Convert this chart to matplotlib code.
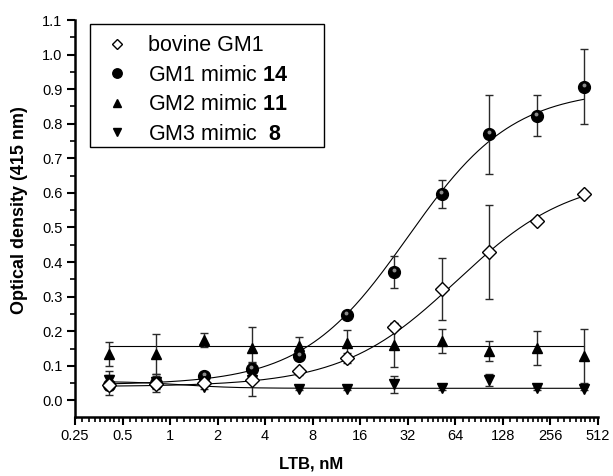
import numpy as np
import matplotlib
matplotlib.use("Agg")
import matplotlib.pyplot as plt
from matplotlib.ticker import FixedLocator, FixedFormatter
from matplotlib.transforms import offset_copy
from matplotlib.patches import Rectangle

plt.rcParams['font.family'] = ['Liberation Sans', 'DejaVu Sans']
plt.rcParams['mathtext.fontset'] = 'custom'
plt.rcParams['mathtext.rm'] = 'Liberation Sans'
plt.rcParams['mathtext.bf'] = 'Liberation Sans:bold'

# ---- data ----
conc = [0.41, 0.82, 1.64, 3.28, 6.56, 13.1, 26.25, 52.5, 105, 210, 420]

bovine_y = [0.045, 0.047, 0.050, 0.060, 0.084, 0.123, 0.213, 0.323, 0.430, 0.520, 0.598]
bovine_e = [0.010, 0.010, 0.008, 0.047, 0.010, 0.015, 0.010, 0.090, 0.136, 0.008, 0.008]

gm1_y = [0.044, 0.050, 0.071, 0.092, 0.127, 0.247, 0.371, 0.596, 0.769, 0.823, 0.907]
gm1_e = [0.029, 0.025, 0.008, 0.020, 0.008, 0.008, 0.047, 0.041, 0.114, 0.059, 0.109]

gm2_y = [0.134, 0.134, 0.174, 0.151, 0.157, 0.165, 0.160, 0.172, 0.143, 0.152, 0.129]
gm2_e = [0.034, 0.057, 0.020, 0.061, 0.027, 0.040, 0.063, 0.035, 0.030, 0.049, 0.078]

gm3_y = [0.058, 0.052, 0.038, 0.060, 0.033, 0.033, 0.047, 0.037, 0.059, 0.035, 0.034]
gm3_e = [0.028, 0.020, 0.005, 0.005, 0.004, 0.004, 0.025, 0.008, 0.016, 0.005, 0.005]

# fitted (Hill) curve parameters: bottom, top, EC50, slope
bovine_fit = (0.040, 0.650, 65.0, 1.2)
gm1_fit = (0.045, 0.900, 32.0, 1.3)
gm2_fit = (0.157, 0.157, 30.0, 1.0)
gm3_fit = (0.055, 0.035, 1.2, 2.5)

labels = ['bovine GM1', r'GM1 mimic $\mathbf{14}$', r'GM2 mimic $\mathbf{11}$', r'GM3 mimic  $\mathbf{8}$']

xticks = [0.25, 0.5, 1, 2, 4, 8, 16, 32, 64, 128, 256, 512]
xticklabels = ['0.25', '0.5', '1', '2', '4', '8', '16', '32', '64', '128', '256', '512']
yticks = [0.0, 0.1, 0.2, 0.3, 0.4, 0.5, 0.6, 0.7, 0.8, 0.9, 1.0, 1.1]


def hill(x, p):
    b, t, c, n = p
    return b + (t - b) / (1.0 + (c / x) ** n)


fig = plt.figure(figsize=(6.13, 4.76), dpi=100)
ax = fig.add_axes([75 / 613, 1 - 417 / 476, 523 / 613, 397 / 476])
ax.set_xscale('log', base=2)

xs = np.geomspace(conc[0], conc[-1], 300)
for p in (gm2_fit, gm3_fit, bovine_fit, gm1_fit):
    ax.plot(xs, hill(xs, p), color='black', lw=0.8, zorder=2)

eb_kw = dict(fmt='none', ecolor='#2a2a2a', elinewidth=1.0, capsize=3.2, capthick=1.0, zorder=3)
for ys, es in ((gm3_y, gm3_e), (gm2_y, gm2_e), (gm1_y, gm1_e), (bovine_y, bovine_e)):
    ax.errorbar(conc, ys, yerr=es, **eb_kw)

h3, = ax.plot(conc, gm3_y, linestyle='none', marker='v', ms=7.5, color='black', zorder=4)
h2, = ax.plot(conc, gm2_y, linestyle='none', marker='^', ms=7.5, color='black', zorder=4)
h1, = ax.plot(conc, gm1_y, linestyle='none', marker='o', ms=8.5, color='black', zorder=5)
hl = offset_copy(ax.transData, fig=fig, x=-0.5, y=2.0, units='dots')
ax.plot(conc, gm1_y, linestyle='none', marker='o', ms=2.8, color='#8c8c8c', mec='none',
        transform=hl, zorder=6)
hb, = ax.plot(conc, bovine_y, linestyle='none', marker='D', ms=7.0, mfc='white', mec='black',
              mew=1.0, zorder=7)

ax.set_xlim(0.25, 512)
ax.set_ylim(-0.048, 1.1)

ax.xaxis.set_major_locator(FixedLocator(xticks))
ax.xaxis.set_major_formatter(FixedFormatter(xticklabels))
minors = []
for k in range(len(xticks) - 1):
    for i in range(1, 9):
        minors.append(xticks[k] * (1 + i / 9))
ax.xaxis.set_minor_locator(FixedLocator(minors))
ax.xaxis.set_minor_formatter(FixedFormatter([''] * len(minors)))

ax.set_yticks(yticks)
ax.set_yticklabels([f'{v:.1f}' for v in yticks])
ax.set_yticks(np.arange(0.05, 1.1, 0.1), minor=True)

for s in ('top', 'right'):
    ax.spines[s].set_visible(False)
for s in ('left', 'bottom'):
    ax.spines[s].set_linewidth(1.8)

ax.tick_params(axis='both', which='major', direction='out', width=1.5, length=6,
               labelsize=10.5, pad=3)
ax.tick_params(axis='both', which='minor', direction='out', width=1.2, length=3.5)

ax.set_xlabel('LTB, nM', fontsize=12, fontweight='bold', va='center')
ax.xaxis.set_label_coords(0.451, -0.118)
ax.set_ylabel('Optical density (415 nm)', fontsize=13, fontweight='bold')
ax.yaxis.set_label_coords(-0.09, 0.52)

leg = ax.legend([hb, h1, h2, h3], labels, loc='upper left', bbox_to_anchor=(0.0453, 0.962),
                borderaxespad=0, fontsize=15.5, frameon=False,
                handletextpad=0.59, labelspacing=0.4,
                borderpad=0.0, handlelength=1.7, markerscale=0.8)

# legend frame (Origin style, wider than its contents)
fig.patches.append(Rectangle((90 / 613, 1 - 146.7 / 476), (324 - 90) / 613, (146.7 - 24) / 476,
                             transform=fig.transFigure, fill=False, edgecolor='black',
                             lw=1.0, zorder=10))

fig.savefig('out.png', dpi=100)
